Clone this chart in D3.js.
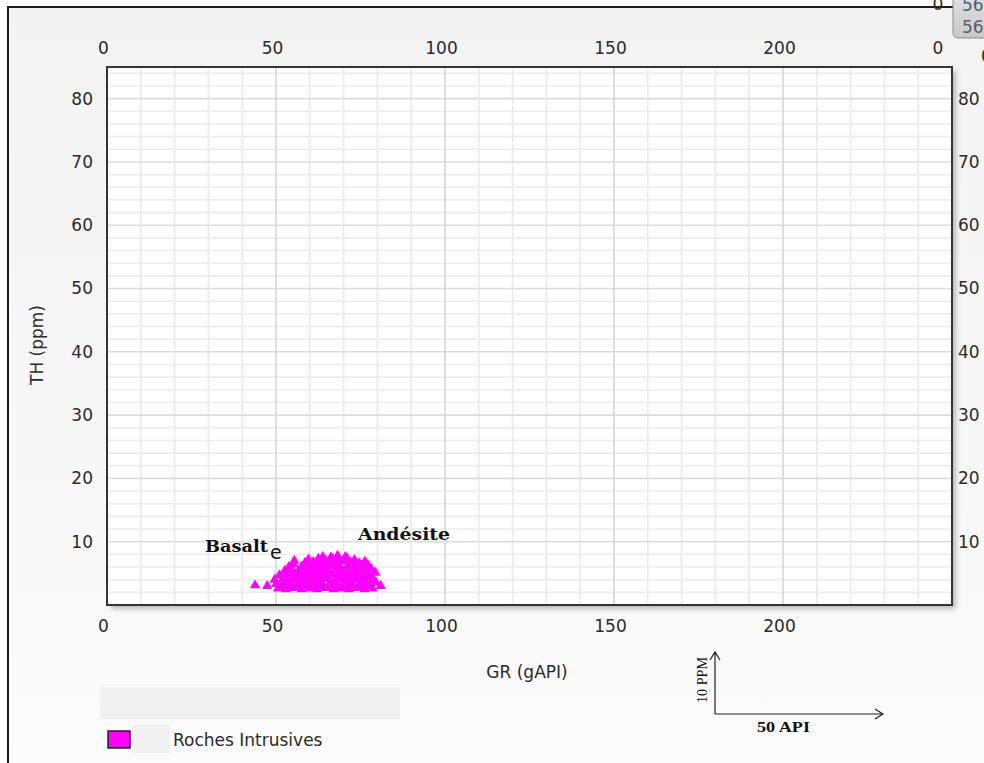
<!DOCTYPE html>
<html>
<head>
<meta charset="utf-8">
<script src="https://cdn.jsdelivr.net/npm/d3@7/dist/d3.min.js"></script>
<style>
  html, body { margin: 0; padding: 0; background: #fff; overflow: hidden; }
  svg { display: block; }
</style>
</head>
<body>
<svg id="chart" width="984" height="763"></svg>
<script>
// Axis ticks
const grTicks = [0, 50, 100, 150, 200];
const thTicks = [10, 20, 30, 40, 50, 60, 70, 80];

// Intrusive rock samples: [GR (gAPI), TH (ppm)]
const intrusives = [
  [43.8, 3.1], [47.4, 3.0],
  [50.6, 2.6], [53.0, 2.5], [55.2, 2.7], [57.6, 2.5], [60.0, 2.6], [62.2, 2.5], [64.6, 2.7],
  [67.0, 2.5], [69.2, 2.6], [71.6, 2.5], [74.0, 2.7], [76.2, 2.5], [78.6, 2.6], [81.0, 3.0],
  [51.8, 2.9], [54.1, 3.0], [56.4, 2.8], [58.8, 3.0], [61.1, 2.9], [63.4, 3.0], [65.8, 2.8],
  [68.1, 3.0], [70.4, 2.9], [72.8, 3.0], [75.1, 2.8], [77.4, 3.0],
  [50.0, 3.3], [52.1, 3.4], [54.5, 3.2], [56.6, 3.4], [59.0, 3.3], [61.1, 3.2], [63.5, 3.4],
  [66.0, 3.3], [68.1, 3.2], [70.5, 3.4], [72.6, 3.3], [75.0, 3.2], [77.5, 3.4], [79.6, 3.5],
  [49.6, 4.0], [52.0, 4.1], [54.0, 3.9], [56.1, 4.0], [58.5, 4.1], [60.5, 3.9], [62.6, 4.0],
  [65.0, 4.1], [67.5, 3.9], [69.5, 4.0], [72.0, 4.1], [74.1, 4.0], [76.5, 3.9], [78.6, 4.2],
  [53.2, 3.7], [57.4, 3.6], [61.8, 3.7], [66.2, 3.6], [70.8, 3.7], [75.3, 3.6], [79.0, 3.8],
  [51.0, 4.7], [53.1, 4.8], [55.5, 4.6], [57.5, 4.7], [59.6, 4.8], [62.0, 4.6], [64.1, 4.7],
  [66.5, 4.8], [68.5, 4.6], [71.0, 4.7], [73.1, 4.8], [75.5, 4.6], [77.6, 4.9], [79.4, 5.1],
  [54.2, 4.4], [58.6, 4.3], [63.2, 4.4], [67.7, 4.3], [72.3, 4.4], [76.8, 4.3],
  [52.6, 5.4], [54.5, 5.5], [56.6, 5.3], [59.0, 5.4], [61.1, 5.5], [63.0, 5.3], [65.5, 5.4],
  [67.6, 5.5], [70.0, 5.3], [72.1, 5.4], [74.5, 5.5], [76.6, 5.3], [78.2, 5.7],
  [55.6, 5.0], [60.2, 5.1], [64.8, 5.0], [69.3, 5.1], [73.9, 5.0],
  [53.8, 6.0], [55.2, 6.4], [57.6, 6.1], [60.0, 6.2], [62.1, 6.0], [64.5, 6.1], [66.6, 6.2],
  [69.0, 6.0], [71.1, 6.1], [73.5, 6.2], [75.6, 6.0], [77.2, 6.3],
  [58.2, 5.8], [63.6, 5.7], [68.1, 5.8], [72.8, 5.7],
  [55.4, 7.0], [58.6, 6.7], [61.0, 6.8], [63.1, 6.6], [65.5, 6.8], [67.6, 6.7], [70.0, 6.9],
  [72.1, 6.7], [74.6, 6.6], [76.3, 6.9],
  [59.6, 7.2], [62.5, 7.3], [64.5, 7.1], [66.6, 7.3], [68.5, 7.2], [71.0, 7.4], [73.2, 7.1],
  [63.8, 7.6], [66.2, 7.5], [68.2, 7.8], [70.5, 7.6]
];

const svg = d3.select("#chart");
const W = 984, H = 763;
const plot = { left: 107, top: 67, right: 952, bottom: 605 };

const x = d3.scaleLinear().domain([0, 250]).range([plot.left, plot.right]);
const y = d3.scaleLinear().domain([0, 85]).range([plot.bottom, plot.top]);

const defs = svg.append("defs");
const bg = defs.append("linearGradient").attr("id", "bg").attr("x1", 0).attr("y1", 0).attr("x2", 0).attr("y2", 1);
bg.append("stop").attr("offset", "0%").attr("stop-color", "#f3f3f3");
bg.append("stop").attr("offset", "100%").attr("stop-color", "#fbfbfb");

const shadow = defs.append("filter").attr("id", "shadow")
  .attr("x", "-5%").attr("y", "-5%").attr("width", "110%").attr("height", "110%");
shadow.append("feDropShadow").attr("dx", 4).attr("dy", 4).attr("stdDeviation", 2.5)
  .attr("flood-color", "#888").attr("flood-opacity", 0.55);

const badge = defs.append("linearGradient").attr("id", "badge").attr("x1", 0).attr("y1", 0).attr("x2", 0).attr("y2", 1);
badge.append("stop").attr("offset", "0%").attr("stop-color", "#e2e2e2");
badge.append("stop").attr("offset", "100%").attr("stop-color", "#c9c9c9");

// Window frame
svg.append("rect").attr("x", 8).attr("y", 7).attr("width", W + 20).attr("height", H + 20)
  .attr("fill", "url(#bg)").attr("stroke", "#1c1c1c").attr("stroke-width", 2);

// Plot area with shadow
svg.append("rect")
  .attr("x", plot.left).attr("y", plot.top)
  .attr("width", plot.right - plot.left).attr("height", plot.bottom - plot.top)
  .attr("fill", "#fff").attr("filter", "url(#shadow)");

// Grid
const grid = svg.append("g");
grid.selectAll(".hmin").data(d3.range(2, 85, 2).filter(v => v % 10 !== 0)).join("line")
  .attr("x1", plot.left).attr("x2", plot.right)
  .attr("y1", d => y(d)).attr("y2", d => y(d))
  .attr("stroke", "#ececec").attr("stroke-width", 1.6);
grid.selectAll(".vmin").data(d3.range(10, 250, 10).filter(v => v % 50 !== 0)).join("line")
  .attr("y1", plot.top).attr("y2", plot.bottom)
  .attr("x1", d => x(d)).attr("x2", d => x(d))
  .attr("stroke", "#ebebeb").attr("stroke-width", 1.6);
grid.selectAll(".hmaj").data(thTicks).join("line")
  .attr("x1", plot.left).attr("x2", plot.right)
  .attr("y1", d => y(d)).attr("y2", d => y(d))
  .attr("stroke", "#dcdcdc").attr("stroke-width", 1.6);
grid.selectAll(".vmaj").data([50, 100, 150, 200]).join("line")
  .attr("y1", plot.top).attr("y2", plot.bottom)
  .attr("x1", d => x(d)).attr("x2", d => x(d))
  .attr("stroke", "#d6d6d6").attr("stroke-width", 1.6);

// Samples
svg.append("g").selectAll("path").data(intrusives).join("path")
  .attr("transform", d => `translate(${x(d[0])},${y(d[1])})`)
  .attr("d", d3.symbol(d3.symbolTriangle, 46))
  .attr("fill", "#ff00ff");

// Plot frame
svg.append("rect")
  .attr("x", plot.left).attr("y", plot.top)
  .attr("width", plot.right - plot.left).attr("height", plot.bottom - plot.top)
  .attr("fill", "none").attr("stroke", "#333").attr("stroke-width", 2);

// Axes
const tickFont = "'DejaVu Sans', Verdana, sans-serif";
function styleAxis(g) {
  g.select(".domain").remove();
  g.selectAll("line").remove();
  g.selectAll("text").attr("fill", "#2a2a2a").style("font-family", tickFont).style("font-size", "17px");
}
svg.append("g").attr("transform", `translate(-4,${plot.bottom + 2})`)
  .call(d3.axisBottom(x).tickValues(grTicks).tickSize(0).tickPadding(13)).call(styleAxis);
svg.append("g").attr("transform", `translate(-4,${plot.top - 2})`)
  .call(d3.axisTop(x).tickValues(grTicks).tickSize(0).tickPadding(11)).call(styleAxis);
svg.append("g").attr("transform", `translate(${plot.left},0)`)
  .call(d3.axisLeft(y).tickValues(thTicks).tickSize(0).tickPadding(14)).call(styleAxis);
svg.append("g").attr("transform", `translate(${plot.right},0)`)
  .call(d3.axisRight(y).tickValues(thTicks).tickSize(0).tickPadding(6)).call(styleAxis);

// Stray labels along the top edge
const stray = svg.append("g").attr("fill", "#2a2a2a").style("font-family", tickFont).style("font-size", "17px");
stray.append("text").attr("x", 938).attr("y", 54).attr("text-anchor", "middle").text("0");
stray.append("text").attr("x", 938).attr("y", 10).attr("text-anchor", "middle").text("0");
stray.append("text").attr("x", 981).attr("y", 62).text("0");

// Counter badge in the corner
svg.append("rect").attr("x", 953).attr("y", -8).attr("width", 50).attr("height", 46).attr("rx", 5)
  .attr("fill", "url(#badge)").attr("stroke", "#8a8a8a").attr("stroke-width", 1);
svg.append("text").attr("x", 962).attr("y", 11).attr("fill", "#4f6172")
  .style("font-family", tickFont).style("font-size", "17px").text("56");
svg.append("text").attr("x", 962).attr("y", 33).attr("fill", "#4f6172")
  .style("font-family", tickFont).style("font-size", "17px").text("56");

// Axis titles
svg.append("text").attr("x", 527).attr("y", 678).attr("text-anchor", "middle")
  .attr("fill", "#2a2a2a").style("font-family", tickFont).style("font-size", "17px").text("GR (gAPI)");
svg.append("text").attr("transform", "translate(43,345) rotate(-90)").attr("text-anchor", "middle")
  .attr("fill", "#2a2a2a").style("font-family", tickFont).style("font-size", "17px").text("TH (ppm)");

// Annotations
const serif = "'DejaVu Serif', 'Liberation Serif', serif";
svg.append("text").attr("x", 205).attr("y", 552).attr("fill", "#111")
  .attr("textLength", 63).attr("lengthAdjust", "spacingAndGlyphs")
  .style("font-family", serif).style("font-weight", "bold").style("font-size", "16.5px").text("Basalt");
svg.append("text").attr("x", 270).attr("y", 559).attr("fill", "#111")
  .style("font-family", "'DejaVu Sans', sans-serif").style("font-size", "19px").text("e");
svg.append("text").attr("x", 358).attr("y", 540).attr("fill", "#111")
  .attr("textLength", 92).attr("lengthAdjust", "spacingAndGlyphs")
  .style("font-family", serif).style("font-weight", "bold").style("font-size", "16.5px").text("Andésite");

// Legend
svg.append("rect").attr("x", 100).attr("y", 687).attr("width", 300).attr("height", 32).attr("fill", "#f1f1f1");
svg.append("rect").attr("x", 132).attr("y", 725).attr("width", 38).attr("height", 28).attr("fill", "#f1f1f1");
svg.append("rect").attr("x", 108).attr("y", 731).attr("width", 22).attr("height", 17)
  .attr("fill", "#ff00ff").attr("stroke", "#222").attr("stroke-width", 1.5);
svg.append("text").attr("x", 173).attr("y", 746).attr("fill", "#2a2a2a")
  .style("font-family", tickFont).style("font-size", "17px").text("Roches Intrusives");

// Scale key: 10 PPM vertical, 50 API horizontal
const key = svg.append("g").attr("stroke", "#222").attr("stroke-width", 1.2).attr("fill", "none");
key.append("path").attr("d", "M715,714 L715,652 M710,660 L715,652 L720,660");
key.append("path").attr("d", "M715,714 L883,714 M875,709 L883,714 L875,719");
svg.append("text").attr("transform", "translate(707,680) rotate(-90)").attr("text-anchor", "middle")
  .attr("fill", "#111").attr("textLength", 46).attr("lengthAdjust", "spacingAndGlyphs")
  .style("font-family", "'Liberation Serif', serif").style("font-size", "14px").text("10 PPM");
svg.append("text").attr("x", 757).attr("y", 732).attr("fill", "#111")
  .attr("textLength", 53).attr("lengthAdjust", "spacingAndGlyphs")
  .style("font-family", "'Liberation Serif', serif").style("font-weight", "bold").style("font-size", "14px").text("50 API");
</script>
</body>
</html>
